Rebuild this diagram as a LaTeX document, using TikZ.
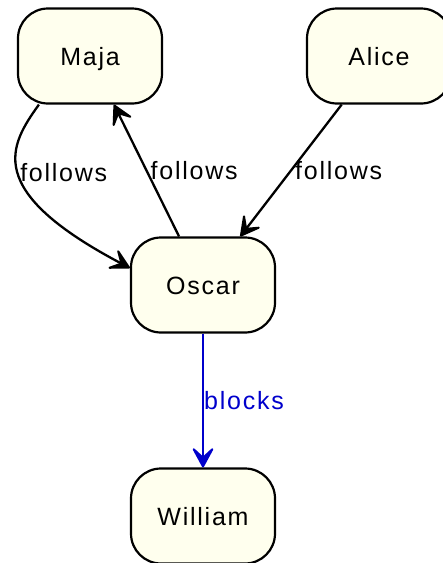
\documentclass[tikz,border=0pt]{standalone}
\usepackage{fontspec}
\setmainfont[LetterSpace=7]{Liberation Sans}
\usepackage{xcolor}
\usetikzlibrary{arrows.meta}
\definecolor{ivory}{HTML}{FFFFEE}
\definecolor{blockblue}{HTML}{0000CC}

\begin{document}
\begin{tikzpicture}[x=1pt,y=-1pt,
  person/.style={draw,line width=2.2pt,fill=ivory,rounded corners=30pt,minimum width=144pt,minimum height=95pt,text height=18pt,text depth=0pt,font=\fontsize{25}{30}\selectfont},
  rel/.style={line width=2.3pt,-{Stealth[length=24pt,width=26pt,inset=12pt,line width=2pt,round]}},
  lbl/.style={anchor=west,inner sep=3pt,font=\fontsize{25}{30}\selectfont}]
\useasboundingbox (0,0) rectangle (443,563);

\node[person] (maja) at (90,56) {Maja};
\node[person] (alice) at (379,56) {Alice};
\node[person] (oscar) at (203,285) {Oscar};
\node[person] (william) at (203,516) {William};

\draw[rel] ([xshift=22pt]maja.south west) .. controls (10,145) and (-18,190) .. ([yshift=17pt]oscar.west) node[lbl,pos=0.5,inner sep=1pt] {follows};
\draw[rel] (oscar) -- (maja) node[lbl,midway] {follows};
\draw[rel] (alice) -- (oscar) node[lbl,midway] {follows};
\draw[rel,blockblue] (oscar) -- (william) node[lbl,midway,text=blockblue,inner sep=0pt] {blocks};
\end{tikzpicture}
\end{document}
